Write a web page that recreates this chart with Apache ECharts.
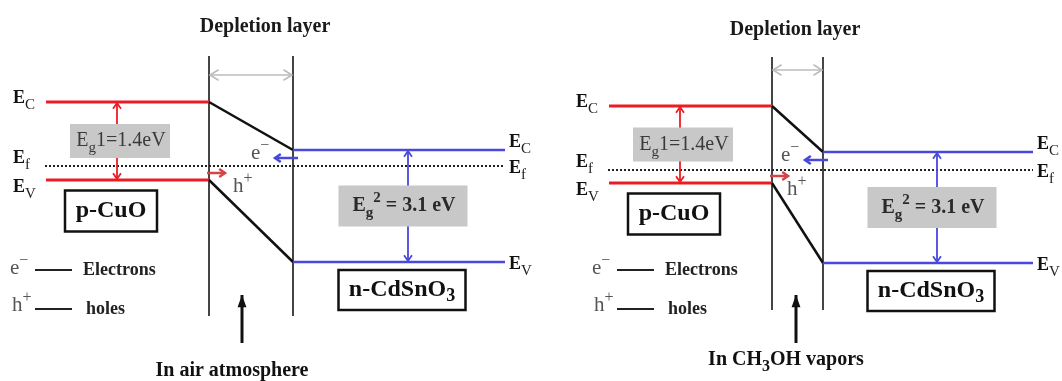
<!DOCTYPE html>
<html>
<head>
<meta charset="utf-8">
<title>p-CuO / n-CdSnO3 band diagram</title>
<script src="https://cdn.jsdelivr.net/npm/echarts/dist/echarts.min.js"></script>
<style>
  html, body { margin: 0; padding: 0; background: #fff; }
  #chart { width: 1062px; height: 381px; }
</style>
</head>
<body>
<div id="chart"></div>
<script>
// Energy-band diagram of the p-CuO / n-CdSnO3 heterojunction in two ambients.
// Diagram units: x runs left to right, y (energy) grows downward on the page.

const conditions      = ['In air atmosphere', 'In CH3OH vapors'];
const bandStartX      = [46, 609];    // left end of the p-side bands
const junctionLeftX   = [209, 772];   // depletion layer, p-side edge
const junctionRightX  = [293, 823];   // depletion layer, n-side edge
const bandEndX        = [505, 1033];  // right end of the n-side bands
const pConduction     = [102, 106];   // p-CuO E_C
const pValence        = [180, 183];   // p-CuO E_V
const fermiLevel      = [166, 170];   // common E_f
const nConduction     = [150, 152];   // n-CdSnO3 E_C
const nValence        = [262, 263];   // n-CdSnO3 E_V
const bandGap1        = [1.4, 1.4];   // eV, CuO
const bandGap2        = [3.1, 3.1];   // eV, CdSnO3

// Layout of the annotations around each panel
const gap1ArrowX      = [117, 680];
const gap2ArrowX      = [408, 937];
const depletionTop    = [56, 57];
const depletionBottom = [316, 310];
const depletionArrowY = [75, 70];
const titleX          = [265, 795];
const titleY          = [27, 30];
const legendLineX     = [35, 617];
const ambientArrowX   = [242, 796];
const captionX        = [232, 786];
const captionY        = [371, 360];
const holeLabelDx     = [28, 19];

const SERIF = '"Liberation Serif", "Times New Roman", serif';
const RED = '#ec1c24';
const BLUE = '#4848dc';
const GAP_FILL = '#c8c8c8';
const EDGE = '#454545';

function rs(size, weight, fill, extra) {
  return Object.assign({
    fontFamily: SERIF, fontSize: size, fontWeight: weight || 'normal',
    fill: fill || '#111', lineHeight: 30, verticalAlign: 'middle'
  }, extra || {});
}
const SUB = { lineHeight: 14, verticalAlign: 'bottom' };
const SUP = { lineHeight: 14, verticalAlign: 'top' };

const shapes = [];
function seg(x1, y1, x2, y2, style) { shapes.push(Object.assign({ kind: 'seg', pts: [x1, y1, x2, y2] }, style)); }
function box(cx, cy, w, h, style) { shapes.push(Object.assign({ kind: 'box', pts: [cx - w / 2, cy - h / 2, cx + w / 2, cy + h / 2] }, style)); }
function label(x, y, text, rich, align) { shapes.push({ kind: 'text', pts: [x, y, x, y], text: text, rich: rich, align: align || 'center' }); }

// Level label "E" with a subscript letter
const levelRich = {
  e: rs(18, 'bold', '#111'),
  s: rs(15, 'normal', '#222', { lineHeight: 13, verticalAlign: 'bottom' })
};
function levelLabel(x, y, sub) { label(x, y, '{e|E}{s|' + sub + '}', levelRich, 'left'); }

for (let i = 0; i < conditions.length; i++) {
  const xL = bandStartX[i], j1 = junctionLeftX[i], j2 = junctionRightX[i], xR = bandEndX[i];
  const ec1 = pConduction[i], ev1 = pValence[i], ef = fermiLevel[i];
  const ec2 = nConduction[i], ev2 = nValence[i];

  // depletion layer edges and its width marker
  seg(j1, depletionTop[i], j1, depletionBottom[i], { color: EDGE, width: 2 });
  seg(j2, depletionTop[i], j2, depletionBottom[i], { color: EDGE, width: 2 });
  seg(j1 + 1, depletionArrowY[i], j2 - 1, depletionArrowY[i], { color: '#bcbcbc', width: 1.6, arrow: 'both', head: 10, spread: 0.55 });
  label(titleX[i], titleY[i], '{t|Depletion layer}', { t: rs(20, 'bold', '#1a1a1a') });

  // Fermi level
  seg(xL - 1, ef, xR, ef, { color: '#222', width: 2, dash: [2, 2] });

  // p-CuO bands
  seg(xL, ec1, j1, ec1, { color: RED, width: 3 });
  seg(xL, ev1, j1, ev1, { color: RED, width: 3 });
  // band bending across the depletion layer
  seg(j1, ec1, j2, ec2, { color: '#111', width: 2.5 });
  seg(j1, ev1, j2, ev2, { color: '#111', width: 2.5 });
  // n-CdSnO3 bands
  seg(j2, ec2, xR, ec2, { color: BLUE, width: 2.5 });
  seg(j2, ev2, xR, ev2, { color: BLUE, width: 2.5 });

  // band-gap arrows with their value boxes
  seg(gap1ArrowX[i], ec1 + 1, gap1ArrowX[i], ev1 - 1, { color: RED, width: 1.8, arrow: 'both', head: 7, spread: 0.6 });
  box(gap1ArrowX[i] + 3, (ec1 + ev1) / 2, 100, 34, { fill: GAP_FILL });
  label(gap1ArrowX[i] + 4, (ec1 + ev1) / 2, '{r|E}{s|g}{r|1=' + bandGap1[i].toFixed(1) + 'eV}', {
    r: rs(20, 'normal', '#3a3a3a'),
    s: rs(15, 'normal', '#3a3a3a', SUB)
  });
  seg(gap2ArrowX[i], ec2 + 1, gap2ArrowX[i], ev2 - 1, { color: BLUE, width: 1.8, arrow: 'both', head: 7, spread: 0.6 });
  box(gap2ArrowX[i] - 5, (ec2 + ev2) / 2, 129, 41, { fill: GAP_FILL });
  label(gap2ArrowX[i] - 4, (ec2 + ev2) / 2, '{b|E}{s|g}{p|2}{b| = ' + bandGap2[i].toFixed(1) + ' eV}', {
    b: rs(20, 'bold', '#2a2a2a'),
    s: rs(15, 'bold', '#2a2a2a', SUB),
    p: rs(15, 'bold', '#2a2a2a', SUP)
  });

  // material boxes
  box(xL + 65, ev1 + 31, 92, 41, { fill: '#fff', stroke: '#111', lineWidth: 2.5 });
  label(xL + 65, ev1 + 31, '{m|p-CuO}', { m: rs(24, 'bold', '#111') });
  box(gap2ArrowX[i] - 6, ev2 + 28, 127, 40, { fill: '#fff', stroke: '#111', lineWidth: 2.5 });
  label(gap2ArrowX[i] - 6, ev2 + 28, '{m|n-CdSnO}{s|3}', {
    m: rs(24, 'bold', '#111'),
    s: rs(18, 'bold', '#111', { lineHeight: 16, verticalAlign: 'bottom' })
  });

  // level names on both sides
  levelLabel(xL - 33, ec1 - 4, 'C');
  levelLabel(xL - 33, ef - 8, 'f');
  levelLabel(xL - 33, ev1 + 7, 'V');
  levelLabel(xR + 4, ec2 - 8, 'C');
  levelLabel(xR + 4, ef + 2, 'f');
  levelLabel(xR + 4, ev2 + 2, 'V');

  // carriers crossing the junction
  const carrierRich = {
    c: rs(21, 'normal', '#555'),
    p: rs(16, 'normal', '#555', SUP)
  };
  seg(j2 + 5, ec2 + 8, j2 - 18, ec2 + 8, { color: BLUE, width: 2.5, arrow: 'end', head: 7, spread: 0.6 });
  label(j2 - 42, ec2 + 3, '{c|e}{p|\u2212}', carrierRich, 'left');
  seg(j1 - 2, ev1 - 7, j1 + 16, ev1 - 7, { color: '#d64545', width: 2.5, arrow: 'end', head: 7, spread: 0.6 });
  label(j1 + holeLabelDx[i] - 4, ev1 + 6, '{c|h}{p|+}', carrierRich, 'left');

  // legend
  const lx = legendLineX[i];
  seg(lx, 270, lx + 37, 270, { color: '#222', width: 2 });
  seg(lx, 309, lx + 37, 309, { color: '#222', width: 2 });
  label(lx - 25, 268, '{c|e}{p|\u2212}', carrierRich, 'left');
  label(lx - 23, 305, '{c|h}{p|+}', carrierRich, 'left');
  label(lx + 48, 270, '{l|Electrons}', { l: rs(18, 'bold', '#222') }, 'left');
  label(lx + 51, 309, '{l|holes}', { l: rs(18, 'bold', '#222') }, 'left');

  // ambient marker and caption
  seg(ambientArrowX[i], 343, ambientArrowX[i], 295, { color: '#111', width: 3, arrow: 'end', head: 13, spread: 0.35, solid: true });
  const capRich = { b: rs(20, 'bold', '#111'), s: rs(16, 'bold', '#111', { lineHeight: 12, verticalAlign: 'bottom' }) };
  const cap = conditions[i].replace('CH3OH', 'CH}{s|3}{b|OH');
  label(captionX[i], captionY[i], '{b|' + cap + '}', capRich);
}

function renderItem(params, api) {
  const s = shapes[params.dataIndex];
  const a = api.coord([api.value(0), api.value(1)]);
  const b = api.coord([api.value(2), api.value(3)]);
  if (s.kind === 'seg') {
    const children = [{
      type: 'line',
      shape: { x1: a[0], y1: a[1], x2: b[0], y2: b[1] },
      style: { stroke: s.color, lineWidth: s.width, lineDash: s.dash || null, lineCap: 'butt' }
    }];
    const ang = Math.atan2(b[1] - a[1], b[0] - a[0]);
    const head = function (p, dir) {
      const L = s.head || 7, sp = s.spread || 0.5;
      const pts = [
        [p[0] - L * Math.cos(dir - sp), p[1] - L * Math.sin(dir - sp)],
        [p[0], p[1]],
        [p[0] - L * Math.cos(dir + sp), p[1] - L * Math.sin(dir + sp)]
      ];
      if (s.solid) {
        children.push({ type: 'polygon', shape: { points: pts }, style: { fill: s.color } });
      } else {
        children.push({ type: 'polyline', shape: { points: pts }, style: { stroke: s.color, lineWidth: s.width, fill: null } });
      }
    };
    if (s.arrow === 'end' || s.arrow === 'both') head(b, ang);
    if (s.arrow === 'both') head(a, ang + Math.PI);
    return { type: 'group', children: children };
  }
  if (s.kind === 'box') {
    return {
      type: 'rect',
      shape: { x: a[0], y: a[1], width: b[0] - a[0], height: b[1] - a[1] },
      style: { fill: s.fill, stroke: s.stroke || null, lineWidth: s.lineWidth || 0 }
    };
  }
  return {
    type: 'text',
    style: {
      x: a[0], y: a[1], text: s.text, rich: s.rich,
      align: s.align, verticalAlign: 'middle',
      fontFamily: SERIF, fontSize: 16, fill: '#111'
    }
  };
}

const chart = echarts.init(document.getElementById('chart'));
chart.setOption({
  animation: false,
  backgroundColor: '#fff',
  grid: { left: 0, right: 0, top: 0, bottom: 0 },
  xAxis: { type: 'value', min: 0, max: 1062, show: false },
  yAxis: { type: 'value', min: 0, max: 381, inverse: true, show: false },
  series: [{
    type: 'custom',
    coordinateSystem: 'cartesian2d',
    renderItem: renderItem,
    clip: false,
    silent: true,
    encode: { x: [0, 2], y: [1, 3] },
    data: shapes.map(function (s) { return s.pts; })
  }]
});
</script>
</body>
</html>
